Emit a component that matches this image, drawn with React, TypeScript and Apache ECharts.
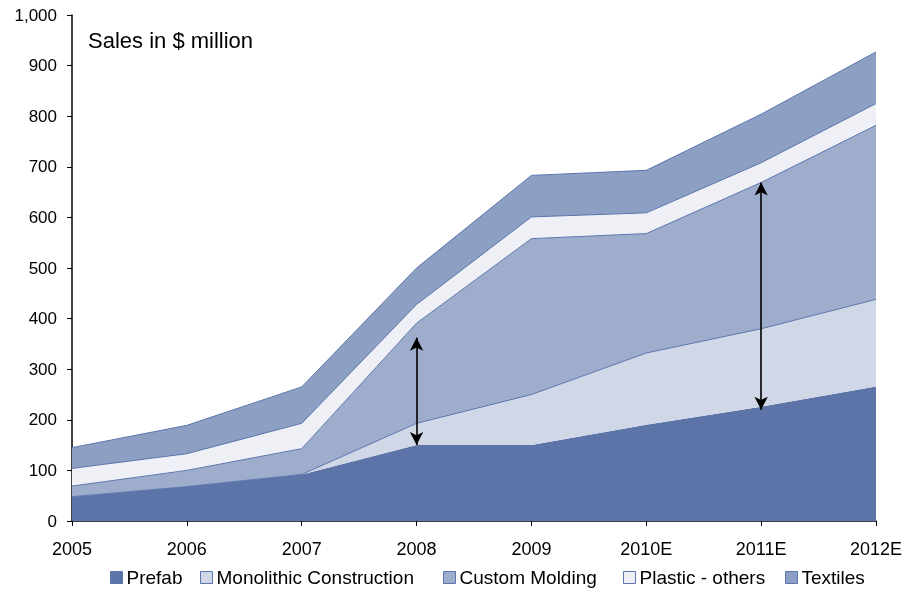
import React, { useEffect, useRef } from "react";
import * as echarts from "echarts";

const categories = ["2005", "2006", "2007", "2008", "2009", "2010E", "2011E", "2012E"];
const seriesNames = ["Prefab", "Monolithic Construction", "Custom Molding", "Plastic - others", "Textiles"];
const prefab = [48, 68, 92, 150, 150, 190, 226, 266];
const monolithic = [0, 0, 0, 43, 100, 142, 154, 172];
const customMolding = [21, 32, 51, 198, 308, 236, 289, 344];
const plasticOthers = [35, 33, 50, 37, 43, 41, 39, 43];
const textiles = [41, 56, 72, 72, 82, 84, 96, 102];
const yTicks = [0, 100, 200, 300, 400, 500, 600, 700, 800, 900, 1000];
const arrows = [
  { cat: "2008", from: 362, to: 150 },
  { cat: "2011E", from: 669, to: 220 },
];

const FONT = "'Liberation Sans', Arial, Helvetica, sans-serif";
const LINE = "#5b75ad";
const COLORS = ["#5c74a8", "#d0d7e6", "#9eadcb", "#eef0f6", "#8d9fc2"];
const legendLeft = [110, 200, 443, 623, 785];

export default function App() {
  const ref = useRef<HTMLDivElement>(null);
  useEffect(() => {
    const chart = echarts.init(ref.current!, null, { renderer: "svg" });
    const values = [prefab, monolithic, customMolding, plasticOthers, textiles];
    const series: any[] = seriesNames.map((name, i) => ({
      name,
      type: "line",
      stack: "total",
      data: values[i],
      symbol: "none",
      itemStyle: { color: COLORS[i], borderColor: LINE, borderWidth: 1 },
      lineStyle: { color: LINE, width: i === 0 ? 0 : 1 },
      areaStyle: { color: COLORS[i], opacity: 1 },
      z: 2,
    }));
    series.push({
      name: "arrows",
      type: "line",
      data: [],
      markLine: {
        silent: true,
        symbol: ["arrow", "arrow"],
        symbolSize: [10, 13],
        label: { show: false },
        lineStyle: { color: "#000", width: 1.6, type: "solid" },
        data: arrows.map((a) => [
          { coord: [a.cat, a.from] },
          { coord: [a.cat, a.to] },
        ]),
      },
      z: 5,
    });
    const legends = seriesNames.map((name, i) => ({
      data: [name],
      left: legendLeft[i],
      top: 568,
      padding: 0,
      itemWidth: 12,
      itemHeight: 12,
      icon: "rect",
      itemStyle: { borderColor: LINE, borderWidth: 1 },
      textStyle: { fontFamily: FONT, fontSize: 19, color: "#000", padding: [0, 0, 0, -1] },
    }));
    chart.setOption({
      animation: false,
      grid: { left: 72, right: 30, top: 15, bottom: 69 },
      title: {
        text: "Sales in $ million",
        left: 88,
        top: 29,
        padding: 0,
        textStyle: { fontFamily: FONT, fontSize: 22, fontWeight: "normal", color: "#000" },
      },
      legend: legends,
      xAxis: {
        type: "category",
        data: categories,
        boundaryGap: false,
        axisLine: { lineStyle: { color: "#000", width: 1.5 } },
        axisTick: { show: true, length: 5, lineStyle: { color: "#000" } },
        axisLabel: { color: "#000", fontFamily: FONT, fontSize: 18, margin: 19, interval: 0 },
      },
      yAxis: {
        type: "value",
        min: 0,
        max: 1000,
        interval: 100,
        splitLine: { show: false },
        axisLine: { show: true, lineStyle: { color: "#000", width: 1.5 } },
        axisTick: { show: true, length: 5, lineStyle: { color: "#000" } },
        axisLabel: {
          color: "#000",
          fontFamily: FONT,
          fontSize: 17,
          margin: 15,
          formatter: (v: number) => (yTicks.includes(v) ? v.toLocaleString("en-US") : ""),
        },
      },
      series,
    });
    return () => chart.dispose();
  }, []);
  return <div ref={ref} style={{ width: 906, height: 590, position: "fixed", left: 0, top: 0 }} />;
}
